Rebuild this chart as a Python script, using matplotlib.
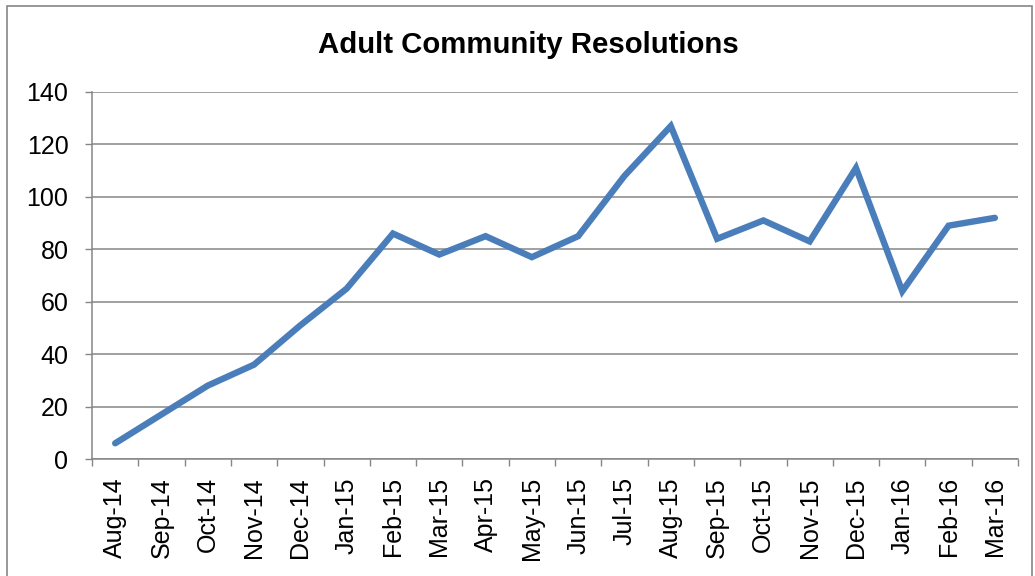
import matplotlib.pyplot as plt
from matplotlib.patches import Rectangle

plt.rcParams['font.family'] = ['Liberation Sans', 'DejaVu Sans']

months = ["Aug-14", "Sep-14", "Oct-14", "Nov-14", "Dec-14", "Jan-15", "Feb-15",
          "Mar-15", "Apr-15", "May-15", "Jun-15", "Jul-15", "Aug-15", "Sep-15",
          "Oct-15", "Nov-15", "Dec-15", "Jan-16", "Feb-16", "Mar-16"]
resolutions = [6, 17, 28, 36, 51, 65, 86, 78, 85, 77, 85, 108, 127, 84, 91, 83,
               111, 64, 89, 92]

grey = "#868686"

fig = plt.figure(figsize=(10.35, 5.76), dpi=100)
ax = fig.add_axes([0.0889, 0.2031, 0.8947, 0.6372])

x = range(len(months))
ax.plot(x, resolutions, color="#4A7EBB", lw=4.6, solid_capstyle="round",
        solid_joinstyle="miter", zorder=3)

ax.set_xlim(-0.5, len(months) - 0.5)
ax.set_ylim(0, 140)
ax.set_yticks(range(0, 141, 20))
ax.set_xticks(list(x))
ax.set_xticklabels(months, rotation=90)
ax.set_xticks([i - 0.5 for i in range(len(months) + 1)], minor=True)

ax.tick_params(axis="x", which="major", length=0, pad=13, labelsize=18)
ax.tick_params(axis="x", which="minor", length=5, width=1, color=grey, direction="out")
ax.tick_params(axis="y", length=5, width=1, color=grey, pad=12, labelsize=18)

ax.grid(axis="y", color=grey, lw=1.1)
ax.set_axisbelow(True)
for side in ("top", "right"):
    ax.spines[side].set_visible(False)
for side in ("left", "bottom"):
    ax.spines[side].set_color(grey)
    ax.spines[side].set_linewidth(1.1)

fig.text(528 / 1035, 1 - 45 / 576, "Adult Community Resolutions", ha="center",
         va="center", fontsize=21.2, fontweight="bold")

# chart border
fig.patches.append(Rectangle((7 / 1035, -0.01), 1025 / 1035, 1 - 6 / 576 + 0.01,
                             transform=fig.transFigure, fill=False,
                             edgecolor=grey, lw=1.2))

fig.savefig("out.png", dpi=100)
